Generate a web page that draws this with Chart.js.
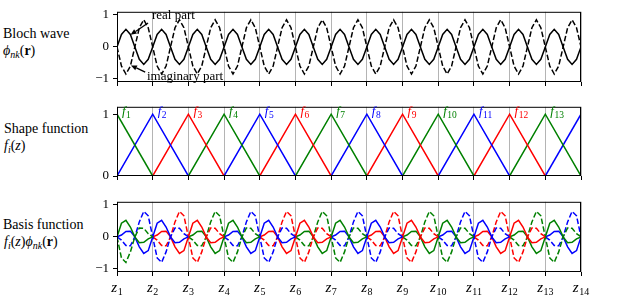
<!DOCTYPE html>
<html>
<head>
<meta charset="utf-8">
<script src="https://cdn.jsdelivr.net/npm/chart.js@4.4.1/dist/chart.umd.min.js"></script>
<style>
body { margin: 0; background: #fff; }
#wrap { position: relative; width: 640px; height: 300px; overflow: hidden; font-family: "Liberation Serif", serif; }
canvas { position: absolute; left: 0; }
.lbl { position: absolute; left: 3px; font-size: 14px; line-height: 14px; white-space: nowrap; color: #000; }
.lbl sub { font-size: 10px; vertical-align: -3px; line-height: 0; }
</style>
</head>
<body>
<div id="wrap">
  <div class="lbl" style="top:27px">Bloch wave</div>
  <div class="lbl" style="top:44px"><i>ϕ</i><sub><i>nk</i></sub>(<b>r</b>)</div>
  <div class="lbl" style="top:122px;left:4px">Shape function</div>
  <div class="lbl" style="top:139px;left:4px"><i>f</i><sub><i>i</i></sub>(<i>z</i>)</div>
  <div class="lbl" style="top:218px">Basis function</div>
  <div class="lbl" style="top:235px;left:4px"><i>f</i><sub><i>i</i></sub>(<i>z</i>)<i>ϕ</i><sub><i>nk</i></sub>(<b>r</b>)</div>
  <canvas id="bloch" width="640" height="95" style="top:0px"></canvas>
  <canvas id="shape" width="640" height="95" style="top:95px"></canvas>
  <canvas id="basis" width="640" height="110" style="top:190px"></canvas>
</div>
<script>
// node positions z_1 .. z_14
const zTicks = [1, 2, 3, 4, 5, 6, 7, 8, 9, 10, 11, 12, 13, 14];
// sample positions inside one interval (fraction of z_i -> z_i+1)
const tSteps = [0, 0.125, 0.25, 0.375, 0.5, 0.625, 0.75, 0.875];

// Bloch wave, one interval
const blochReal = [0, 0.39, 0.55, 0.39, 0, -0.39, -0.55, -0.39];
const blochImag = [0, -0.60, -0.85, -0.60, 0, 0.60, 0.85, 0.60];

// shape function peak value
const hatPeak = 1;

// basis function values, rising half (z_i-1 -> z_i) and falling half (z_i -> z_i+1)
const riseReal = [0, 0.06, 0.17, 0.18, 0, -0.31, -0.52, -0.43];
const fallReal = [0, 0.43, 0.52, 0.31, 0, -0.18, -0.17, -0.06];
const riseImag = [0, -0.10, -0.27, -0.28, 0, 0.47, 0.80, 0.66];
const fallImag = [0, -0.66, -0.80, -0.47, 0, 0.28, 0.27, 0.10];

const blochTicks = [-1, 0, 1];
const shapeTicks = [0, 1];
const basisTicks = [-1, 0, 1];
const fLabelCount = 13;

const cycleColors = ['#008000', '#0000ff', '#ff0000'];
const DASH = [5.5, 2.4];
const LW = 1.5;

function periodic(vals) {
    const pts = [];
    zTicks.slice(0, -1).forEach(z => {
        tSteps.forEach((t, k) => pts.push({x: z + t, y: vals[k]}));
    });
    pts.push({x: zTicks[zTicks.length - 1], y: vals[0]});
    return pts;
}

function basisPoints(i, rise, fall) {
    const pts = [];
    const last = zTicks.length - 1;
    if (i > 0) tSteps.forEach((t, k) => pts.push({x: zTicks[i - 1] + t, y: rise[k]}));
    if (i < last) {
        tSteps.forEach((t, k) => pts.push({x: zTicks[i] + t, y: fall[k]}));
        pts.push({x: zTicks[i + 1], y: 0});
    } else {
        pts.push({x: zTicks[i], y: 0});
    }
    return pts;
}

function hatPoints(i) {
    const pts = [];
    if (i > 0) pts.push({x: zTicks[i - 1], y: 0});
    pts.push({x: zTicks[i], y: hatPeak});
    if (i < zTicks.length - 1) pts.push({x: zTicks[i + 1], y: 0});
    return pts;
}

function lineSet(data, color, dashed) {
    return {
        data: data,
        borderColor: color,
        borderWidth: LW,
        borderDash: dashed ? DASH : [],
        pointRadius: 0,
        tension: 0,
        fill: false
    };
}

const framePlugin = {
    id: 'frame',
    afterDraw(chart) {
        const {ctx, chartArea: a} = chart;
        ctx.save();
        ctx.strokeStyle = '#000';
        ctx.lineWidth = 1;
        ctx.strokeRect(a.left + 0.5, a.top + 0.5, a.right - a.left - 1, a.bottom - a.top - 1);
        ctx.restore();
    }
};

function sub(ctx, base, idx, x, y, bigSize, smallSize, color) {
    ctx.fillStyle = color;
    ctx.font = 'italic ' + bigSize + 'px "Liberation Serif"';
    ctx.fillText(base, x, y);
    const w = ctx.measureText(base).width;
    ctx.font = smallSize + 'px "Liberation Serif"';
    ctx.fillText(String(idx), x + w + 0.5, y + 2.5);
    return w + 0.5 + ctx.measureText(String(idx)).width;
}

function arrow(ctx, x0, y0, x1, y1) {
    const ang = Math.atan2(y1 - y0, x1 - x0);
    const hl = 6, hw = 2.6;
    const bx = x1 - hl * Math.cos(ang), by = y1 - hl * Math.sin(ang);
    ctx.beginPath();
    ctx.moveTo(x0, y0);
    ctx.lineTo(bx, by);
    ctx.stroke();
    ctx.beginPath();
    ctx.moveTo(x1, y1);
    ctx.lineTo(bx + hw * Math.sin(ang), by - hw * Math.cos(ang));
    ctx.lineTo(bx - hw * Math.sin(ang), by + hw * Math.cos(ang));
    ctx.closePath();
    ctx.fill();
}

const annotatePlugin = {
    id: 'annotate',
    afterDraw(chart) {
        const {ctx, scales: {x, y}} = chart;
        ctx.save();
        ctx.fillStyle = '#000';
        ctx.strokeStyle = '#000';
        ctx.lineWidth = 1.3;
        ctx.font = '13px "Liberation Serif"';
        ctx.textBaseline = 'alphabetic';
        ctx.fillText('real part', x.getPixelForValue(1.98), y.getPixelForValue(0.86));
        ctx.fillText('imaginary part', x.getPixelForValue(1.84), y.getPixelForValue(-1.04));
        arrow(ctx, x.getPixelForValue(1.87), y.getPixelForValue(0.75), x.getPixelForValue(1.38), y.getPixelForValue(0.38));
        arrow(ctx, x.getPixelForValue(1.79), y.getPixelForValue(-0.79), x.getPixelForValue(1.39), y.getPixelForValue(-0.58));
        ctx.restore();
    }
};

const fLabelPlugin = {
    id: 'flabels',
    afterDraw(chart) {
        const {ctx, scales: {x, y}} = chart;
        ctx.save();
        for (let i = 0; i < fLabelCount; i++) {
            sub(ctx, 'f', i + 1, x.getPixelForValue(zTicks[i]) + 5, y.getPixelForValue(hatPeak) + 1, 13, 9.5, cycleColors[i % 3]);
        }
        ctx.restore();
    }
};

const zLabelPlugin = {
    id: 'zlabels',
    afterDraw(chart) {
        const {ctx, scales: {x}, chartArea: a} = chart;
        ctx.save();
        zTicks.forEach((z, i) => {
            ctx.font = 'italic 15px "Liberation Serif"';
            const w1 = ctx.measureText('z').width;
            ctx.font = '10px "Liberation Serif"';
            const w2 = ctx.measureText(String(i + 1)).width;
            const left = x.getPixelForValue(z) - (w1 + 0.5 + w2) / 2;
            sub(ctx, 'z', i + 1, left, a.bottom + 20, 15, 10, '#000');
        });
        ctx.restore();
    }
};

function panelOptions(cfg) {
    return {
        responsive: false,
        animation: false,
        events: [],
        layout: {padding: {left: 0, right: 59, top: cfg.top, bottom: 0}},
        plugins: {legend: {display: false}, tooltip: {enabled: false}},
        scales: {
            x: {
                type: 'linear',
                min: zTicks[0],
                max: zTicks[zTicks.length - 1],
                afterBuildTicks: s => { s.ticks = zTicks.map(v => ({value: v})); },
                afterFit: s => { s.height = cfg.xh; },
                grid: {color: '#b4b4b4', lineWidth: 1, tickColor: '#000', tickLength: 4},
                border: {display: false},
                ticks: {display: false}
            },
            y: {
                type: 'linear',
                min: cfg.ymin,
                max: cfg.ymax,
                afterBuildTicks: s => { s.ticks = cfg.yt.map(v => ({value: v})); },
                afterFit: s => { s.width = 117; },
                grid: {drawOnChartArea: false, tickColor: '#000', tickLength: 4},
                border: {display: false},
                ticks: {
                    color: '#000',
                    padding: 4,
                    font: {family: '"Liberation Serif"', size: 13},
                    callback: v => v < 0 ? '\u2212' + Math.abs(v) : String(v)
                }
            }
        }
    };
}

new Chart(document.getElementById('bloch'), {
    type: 'line',
    data: {datasets: [
        lineSet(periodic(blochReal), '#000', false),
        lineSet(periodic(blochImag), '#000', true)
    ]},
    options: panelOptions({top: 8, xh: 13, ymin: -1.1, ymax: 1.1, yt: blochTicks}),
    plugins: [framePlugin, annotatePlugin]
});

const shapeSets = zTicks.map((z, i) => lineSet(hatPoints(i), cycleColors[i % 3], false));
new Chart(document.getElementById('shape'), {
    type: 'line',
    data: {datasets: shapeSets},
    options: panelOptions({top: 7, xh: 14, ymin: 0, ymax: 1.12, yt: shapeTicks}),
    plugins: [framePlugin, fLabelPlugin]
});

const basisSets = [];
zTicks.forEach((z, i) => {
    basisSets.push(lineSet(basisPoints(i, riseReal, fallReal), cycleColors[i % 3], false));
    basisSets.push(lineSet(basisPoints(i, riseImag, fallImag), cycleColors[i % 3], true));
});
new Chart(document.getElementById('basis'), {
    type: 'line',
    data: {datasets: basisSets},
    options: panelOptions({top: 7, xh: 28, ymin: -1.1, ymax: 1.1, yt: basisTicks}),
    plugins: [framePlugin, zLabelPlugin]
});
</script>
</body>
</html>
